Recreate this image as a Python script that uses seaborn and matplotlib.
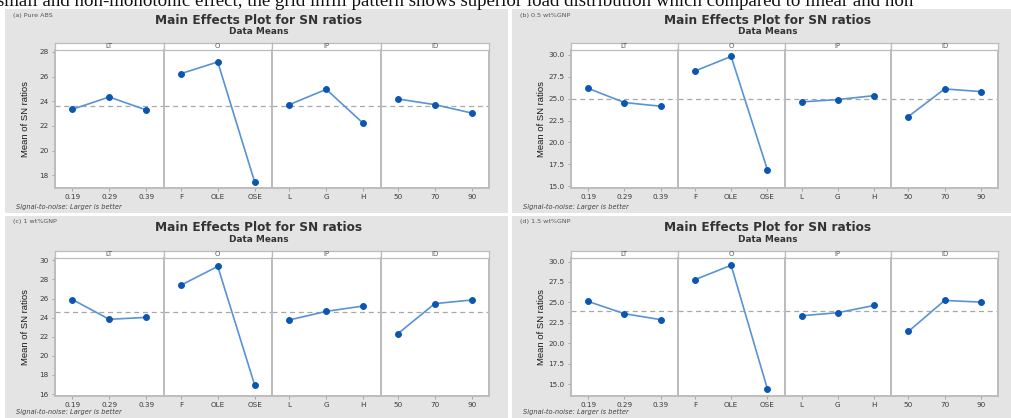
import numpy as np
import pandas as pd
import seaborn as sns
import matplotlib.pyplot as plt
from matplotlib.patches import Rectangle

factors = ["LT", "O", "IP", "ID"]
lt_levels = ["0.19", "0.29", "0.39"]
o_levels = ["F", "OLE", "OSE"]
ip_levels = ["L", "G", "H"]
id_levels = ["50", "70", "90"]

# mean SN ratios, ordered LT, O, IP, ID (3 levels each)
pure_abs = [23.35, 24.35, 23.30, 26.24, 27.19, 17.46, 23.73, 24.97, 22.22, 24.19, 23.73, 23.05]
gnp_05 = [26.17, 24.55, 24.13, 28.14, 29.81, 16.86, 24.62, 24.89, 25.34, 22.95, 26.10, 25.80]
gnp_10 = [25.90, 23.83, 24.03, 27.40, 29.37, 16.95, 23.76, 24.66, 25.22, 22.32, 25.47, 25.85]
gnp_15 = [25.12, 23.62, 22.89, 27.78, 29.55, 14.39, 23.37, 23.74, 24.63, 21.44, 25.24, 25.04]

panel_names = ["(a) Pure ABS", "(b) 0.5 wt%GNP", "(c) 1 wt%GNP", "(d) 1.5 wt%GNP"]
ticks_a = [18, 20, 22, 24, 26, 28]
ticks_b = [15.0, 17.5, 20.0, 22.5, 25.0, 27.5, 30.0]
ticks_c = [16, 18, 20, 22, 24, 26, 28, 30]
ticks_d = [15.0, 17.5, 20.0, 22.5, 25.0, 27.5, 30.0]

top_line = ("small and non-monotonic effect, the grid infill pattern shows superior load "
            "distribution which compared to linear and non")

W, H = 1011, 418
sns.set_style("white")
plt.rcParams["font.family"] = ["DejaVu Sans"]

fig = plt.figure(figsize=(W / 100, H / 100), dpi=100)
fig.patch.set_facecolor("white")


def px_axes(x0, y0, x1, y1, **kw):
    return fig.add_axes([x0 / W, 1 - y1 / H, (x1 - x0) / W, (y1 - y0) / H], **kw)


def px_text(x, y, s, **kw):
    fig.text(x / W, 1 - y / H, s, **kw)


BG = "#e4e4e4"
LINE_C = "#5893d6"
MARK_C = "#0c56b0"
FRAME_C = "#bcbcbc"

# text from the page above, cut off at the top
px_text(-3, 5.5, top_line, family=["Liberation Serif", "DejaVu Serif"], fontsize=13.6,
        va="baseline", ha="left", color="#111111")

panels = [
    # values, ticks, ylim, fmt, bg box, plot box (x0, strip top, x1, bottom), title x
    (pure_abs, ticks_a, (16.97, 28.2), "{:.0f}", (5, 9, 508, 213), (55, 43, 489, 188), 259),
    (gnp_05, ticks_b, (14.8, 30.6), "{:.1f}", (512, 9, 1011, 213), (571, 43, 998, 188), 768),
    (gnp_10, ticks_c, (15.8, 30.3), "{:.0f}", (5, 216, 508, 418), (55, 251, 489, 396), 259),
    (gnp_15, ticks_d, (13.54, 30.5), "{:.1f}", (512, 216, 1011, 418), (571, 251, 998, 396), 768),
]

for name, (vals, ticks, ylim, fmt, bg, box, tx) in zip(panel_names, panels):
    bx0, by0, bx1, by1 = bg
    fig.patches.append(Rectangle((bx0 / W, 1 - by1 / H), (bx1 - bx0) / W, (by1 - by0) / H,
                                 transform=fig.transFigure, facecolor=BG, edgecolor="none",
                                 zorder=-5))
    px_text(bx0 + 8, by0 + 6, name, fontsize=4.6, color="#555555", va="center")
    px_text(tx, by0 + 12, "Main Effects Plot for SN ratios", fontsize=8.7,
            fontweight="bold", color="#333333", ha="center", va="center")
    px_text(tx, by0 + 23, "Data Means", fontsize=6.4, fontweight="bold", color="#333333",
            ha="center", va="center")
    px_text(bx0 + 11, by1 - 6, "Signal-to-noise: Larger is better", fontsize=4.8,
            style="italic", color="#444444", va="center")

    x0, st, x1, yb = box
    sb = st + 6.5
    px_text(x0 - 29, (sb + yb) / 2, "Mean of SN ratios", rotation=90, fontsize=6.8,
            family=["Liberation Sans", "DejaVu Sans"], color="#1a1a1a",
            ha="center", va="center")

    df = pd.DataFrame({
        "factor": np.repeat(factors, 3),
        "level": lt_levels + o_levels + ip_levels + id_levels,
        "pos": np.tile(np.arange(3), 4),
        "sn": vals,
    })
    grand_mean = df["sn"].mean()
    fw = (x1 - x0) / 4
    for i, f in enumerate(factors):
        fx0 = x0 + i * fw
        sub = df[df["factor"] == f]
        ax = px_axes(fx0, sb, fx0 + fw, yb)
        ax.set_facecolor("white")
        ax.axhline(grand_mean, color="#a8a8a8", ls=(0, (4, 3)), lw=0.9, zorder=1)
        sns.lineplot(data=sub, x="pos", y="sn", ax=ax, color=LINE_C, lw=1.2, marker="o",
                     markersize=4.2, markerfacecolor=MARK_C, markeredgecolor=MARK_C,
                     sort=False, zorder=3)
        ax.set_xlim(-0.47, 2.47)
        ax.set_ylim(*ylim)
        ax.set_xticks(range(3), sub["level"].tolist())
        ax.set_yticks(ticks)
        if i == 0:
            ax.set_yticklabels([fmt.format(t) for t in ticks])
        else:
            ax.tick_params(axis="y", left=False, labelleft=False)
        ax.set_xlabel("")
        ax.set_ylabel("")
        ax.tick_params(axis="both", length=2, width=0.6, color="#999999", labelsize=5.2,
                       labelcolor="#3a3a3a", pad=2.5, direction="out")
        ax.tick_params(axis="x", bottom=True)
        ax.tick_params(axis="y", left=(i == 0))
        for sp in ax.spines.values():
            sp.set_color(FRAME_C)
            sp.set_linewidth(1.4)

        # strip with the factor name
        sax = px_axes(fx0, st, fx0 + fw, sb)
        sax.set_facecolor("white")
        sax.set_xticks([])
        sax.set_yticks([])
        for sp in sax.spines.values():
            sp.set_color(FRAME_C)
            sp.set_linewidth(0.9)
        sax.text(0.5, 0.5, f, transform=sax.transAxes, ha="center", va="center",
                 fontsize=5, color="#555555")

fig.savefig("out.png", dpi=100)
